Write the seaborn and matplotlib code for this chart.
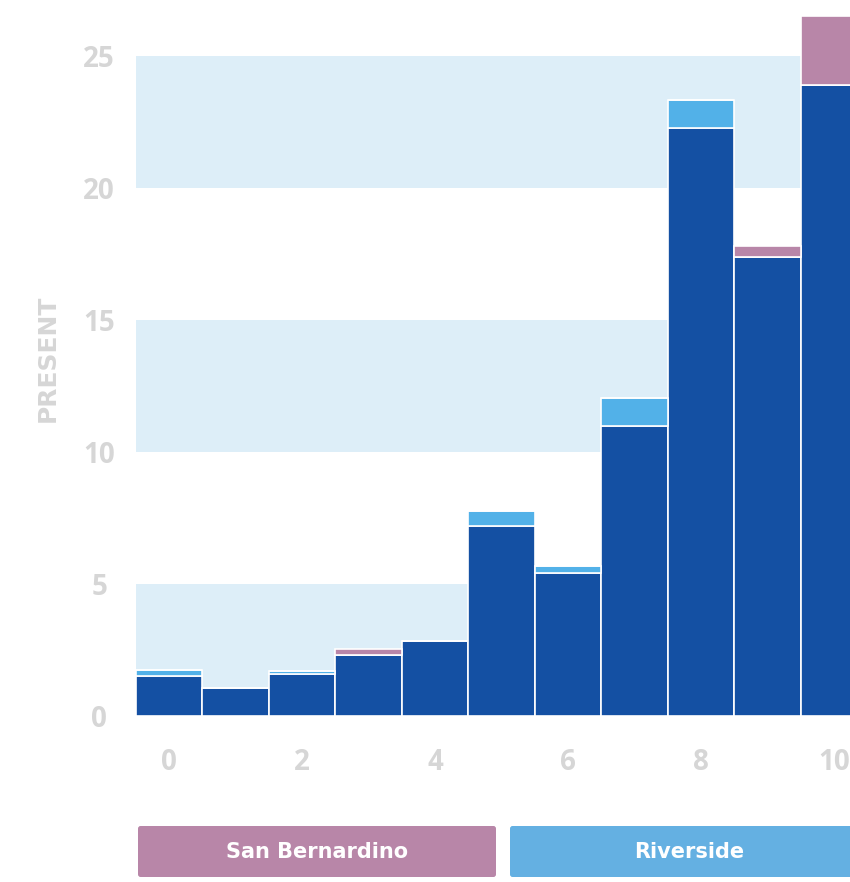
import matplotlib
matplotlib.use("Agg")
import matplotlib.pyplot as plt
from matplotlib.patches import FancyBboxPatch
import seaborn as sns
import pandas as pd

# Bin positions and stacked values per series
positions = [0, 1, 2, 3, 4, 5, 6, 7, 8, 9, 10]
other_vals = [1.52, 1.06, 1.59, 2.31, 2.84, 7.20, 5.42, 10.98, 22.27, 17.39, 23.90]
riverside_vals = [0.22, 0.0, 0.11, 0.0, 0.0, 0.57, 0.26, 1.07, 1.06, 0.0, 0.0]
san_bern_vals = [0.0, 0.0, 0.0, 0.23, 0.0, 0.0, 0.0, 0.0, 0.0, 0.42, 2.60]

series_names = ["San Bernardino", "Riverside", "Other"]
series_colors = ["#b886a8", "#52b1e8", "#1450a3"]
legend_colors = ["#b886a8", "#64b0e2"]

y_ticks = [0, 5, 10, 15, 20, 25]
x_ticks = [0, 2, 4, 6, 8, 10]
band_ranges = [(0, 5), (10, 15), (20, 25)]

rows = []
for name, vals in zip(series_names, [san_bern_vals, riverside_vals, other_vals]):
    for p, v in zip(positions, vals):
        rows.append({"x": p, "value": v, "series": name})
df = pd.DataFrame(rows)

sns.set_theme(style="white")
fig = plt.figure(figsize=(8.5, 8.82), dpi=100)
ax = fig.add_axes([136 / 850, 166 / 882, 1 - 136 / 850, 716 / 882])

for lo, hi in band_ranges:
    ax.axhspan(lo, hi, color="#ddeef8", zorder=0, lw=0)

sns.histplot(
    data=df, x="x", weights="value", hue="series",
    hue_order=series_names, palette=dict(zip(series_names, series_colors)),
    multiple="stack", discrete=True, shrink=1.0,
    edgecolor="white", linewidth=1.2, alpha=1, legend=False, ax=ax, zorder=2,
)

ax.set_xlim(-0.5, 10.24)
ax.set_ylim(0, 27.12)
for s in ax.spines.values():
    s.set_visible(False)
ax.grid(False)

tick_color = "#d6d6d6"
ax.set_yticks(y_ticks)
ax.set_yticklabels([str(t) for t in y_ticks], fontsize=20, fontweight="bold",
                   color=tick_color, family="Open Sans", ha="center")
ax.set_xticks(x_ticks)
ax.set_xticklabels([str(t) for t in x_ticks], fontsize=20, fontweight="bold",
                   color=tick_color, family="Open Sans")
ax.tick_params(axis="y", length=0, pad=26.5)
ax.tick_params(axis="x", length=0, pad=23)

ax.set_xlabel("")
ax.set_ylabel("PRESENT", fontsize=18, fontweight="bold", color=tick_color,
              family="DejaVu Sans")
ax.yaxis.set_label_coords(-(136 - 60) / 714, 0.5)

# Legend boxes along the bottom
boxes = [(138, 496, "San Bernardino", 317), (510, 860, "Riverside", 689)]
for (x0, x1, label, cx), col in zip(boxes, legend_colors):
    fx0, fx1 = x0 / 850, x1 / 850
    fy0, fy1 = 1 - 877 / 882, 1 - 826 / 882
    patch = FancyBboxPatch((fx0, fy0), fx1 - fx0, fy1 - fy0,
                           boxstyle="round,pad=0,rounding_size=0.003",
                           transform=fig.transFigure, facecolor=col,
                           edgecolor="none", clip_on=False)
    fig.patches.append(patch)
    fig.text(cx / 850, (fy0 + fy1) / 2, label, ha="center", va="center",
             color="white", fontsize=15, fontweight="bold", family="DejaVu Sans")

fig.savefig("out.png", dpi=100)
